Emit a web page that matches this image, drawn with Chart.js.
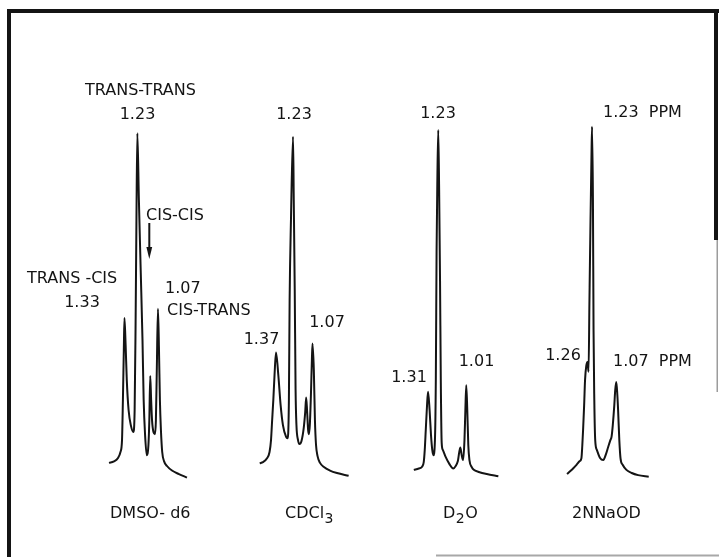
<!DOCTYPE html>
<html>
<head>
<meta charset="utf-8">
<title>Methyl proton NMR in four solvents</title>
<script src="https://cdn.jsdelivr.net/npm/chart.js@4/dist/chart.umd.min.js"></script>
<style>
  html, body { margin: 0; padding: 0; background: #fff; }
  canvas { display: block; }
</style>
</head>
<body>
<canvas id="nmr" width="719" height="557"></canvas>
<script>
// ---- Spectra: chemical shift (ppm) and relative intensity (tallest line = 100) ----

// DMSO-d6
const dmsoShift = [1.450, 1.412, 1.380, 1.361, 1.349, 1.342, 1.335, 1.33, 1.321, 1.312, 1.298, 1.279, 1.261,
  1.251, 1.244, 1.237, 1.23, 1.218, 1.204, 1.190, 1.181, 1.170, 1.157, 1.144, 1.137, 1.130, 1.123, 1.116,
  1.105, 1.093, 1.086, 1.079, 1.07, 1.062, 1.055, 1.047, 1.037, 1.023, 1.000, 0.961, 0.907, 0.845];
const dmsoIntensity = [4.9, 5.3, 6.3, 8.0, 11.4, 22.9, 37.1, 46.3, 38.6, 28.6, 20.0, 15.4, 13.7,
  20.0, 42.9, 74.3, 99.1, 80.0, 60.0, 40.0, 22.9, 12.9, 7.1, 10.0, 17.1, 29.7, 22.9, 17.1,
  13.7, 13.1, 17.1, 31.4, 48.9, 37.1, 22.9, 14.3, 8.0, 5.4, 4.0, 2.7, 1.7, 0.7];

// CDCl3
const cdclShift = [1.504, 1.477, 1.444, 1.423, 1.411, 1.403, 1.392, 1.382, 1.37, 1.351, 1.332, 1.313, 1.287,
  1.275, 1.264, 1.258, 1.247, 1.23, 1.224, 1.216, 1.209, 1.202, 1.189, 1.178, 1.161, 1.142, 1.130, 1.122,
  1.114, 1.106, 1.100, 1.092, 1.083, 1.075, 1.07, 1.059, 1.050, 1.041, 1.029, 1.008, 0.976, 0.926, 0.869, 0.773];
const cdclIntensity = [4.8, 5.1, 6.2, 8.0, 11.4, 16.3, 22.9, 30.0, 36.4, 30.0, 21.4, 15.7, 12.3,
  11.9, 22.9, 51.4, 74.3, 98.1, 80.0, 54.3, 25.7, 15.7, 11.4, 10.3, 11.1, 14.9, 19.4, 23.6,
  19.4, 14.3, 13.1, 15.7, 24.3, 34.3, 39.0, 31.4, 17.1, 10.0, 6.9, 4.9, 3.7, 2.7, 2.0, 1.2];

// D2O
const d2oShift = [1.422, 1.383, 1.357, 1.344, 1.336, 1.328, 1.318, 1.31, 1.298, 1.287, 1.277, 1.268, 1.256,
  1.249, 1.243, 1.237, 1.23, 1.223, 1.216, 1.210, 1.203, 1.194, 1.172, 1.143, 1.112, 1.093, 1.076, 1.057,
  1.046, 1.035, 1.024, 1.017, 1.01, 1.002, 0.994, 0.985, 0.967, 0.951, 0.912, 0.849, 0.758];
const d2oIntensity = [2.9, 3.3, 3.8, 5.1, 8.6, 14.3, 21.4, 25.2, 20.0, 12.9, 8.6, 7.1, 11.4,
  28.6, 65.7, 85.7, 100.0, 82.9, 57.1, 28.6, 10.6, 8.6, 6.6, 4.6, 3.3, 4.0, 5.4, 9.3,
  7.1, 5.7, 11.4, 20.0, 27.1, 20.0, 10.0, 5.7, 3.7, 2.9, 2.3, 1.7, 1.1];

// 2N NaOD
const naodShift = [1.395, 1.377, 1.355, 1.331, 1.311, 1.300, 1.294, 1.289, 1.282, 1.276, 1.268, 1.26, 1.253,
  1.247, 1.240, 1.234, 1.23, 1.224, 1.220, 1.215, 1.209, 1.198, 1.177, 1.156, 1.138, 1.123, 1.109, 1.101,
  1.093, 1.083, 1.077, 1.07, 1.063, 1.058, 1.050, 1.042, 1.027, 1.003, 0.968, 0.926, 0.856];
const naodIntensity = [1.7, 2.4, 3.3, 4.4, 5.4, 6.2, 10.0, 14.3, 21.4, 28.6, 32.6, 33.7, 30.9,
  51.4, 74.3, 91.4, 100.9, 80.0, 42.9, 22.9, 11.4, 8.6, 6.3, 5.7, 7.4, 9.5, 11.4, 12.4,
  15.7, 21.4, 25.7, 28.0, 24.3, 20.0, 11.4, 6.2, 4.3, 2.9, 2.0, 1.4, 0.9];

// Labelled line positions (ppm)
const dmsoPeaks = [1.33, 1.23, 1.07];
const cdclPeaks = [1.37, 1.23, 1.07];
const d2oPeaks = [1.31, 1.23, 1.01];
const naodPeaks = [1.26, 1.23, 1.07];

// Isomer assignments in DMSO-d6
const isomerNames = ['TRANS -CIS', 'TRANS-TRANS', 'CIS-CIS', 'CIS-TRANS'];

// Solvent captions (subscripts kept as separate runs)
const solventNames = [
  [{ t: 'DMSO- d6' }],
  [{ t: 'CDCl' }, { t: '3', sub: true }],
  [{ t: 'D' }, { t: '2', sub: true }, { t: 'O' }],
  [{ t: '2NNaOD' }]
];

// ---- Drawing ----
const ink = '#141414';
const mainFont = "16px 'DejaVu Sans'";
const subFont = "14px 'DejaVu Sans'";

function pairs(xs, ys) {
  return xs.map((x, i) => ({ x: x, y: ys[i] }));
}

function trace(xs, ys, axis) {
  return {
    data: pairs(xs, ys),
    xAxisID: axis,
    yAxisID: 'y',
    borderColor: ink,
    borderWidth: 2,
    pointRadius: 0,
    fill: false,
    cubicInterpolationMode: 'monotone'
  };
}

// Each trace gets its own reversed ppm axis so the four spectra sit side by side.
function ppmAxis(left, right) {
  return { type: 'linear', reverse: true, display: false, bounds: 'data', min: right, max: left };
}

// Text placement for the annotations
const peakLabelPlaces = [
  { value: dmsoPeaks[0], x: 82, y: 307, align: 'center' },
  { value: dmsoPeaks[1], x: 137.5, y: 119, align: 'center' },
  { value: dmsoPeaks[2], x: 165, y: 293, align: 'left' },
  { value: cdclPeaks[0], x: 261.5, y: 343.5, align: 'center' },
  { value: cdclPeaks[1], x: 294, y: 119, align: 'center' },
  { value: cdclPeaks[2], x: 327, y: 327, align: 'center' },
  { value: d2oPeaks[0], x: 409, y: 382, align: 'center' },
  { value: d2oPeaks[1], x: 438, y: 117.5, align: 'center' },
  { value: d2oPeaks[2], x: 476.5, y: 366, align: 'center' },
  { value: naodPeaks[0], x: 563, y: 359.5, align: 'center' },
  { value: naodPeaks[1], x: 603, y: 117, align: 'left', suffix: '  PPM' },
  { value: naodPeaks[2], x: 613, y: 366, align: 'left', suffix: '  PPM' }
];
const isomerPlaces = [
  { x: 27, y: 282.5 },
  { x: 85, y: 95 },
  { x: 146, y: 220 },
  { x: 167, y: 315 }
];
const solventPlaces = [
  { x: 110, y: 518 },
  { x: 285, y: 518 },
  { x: 443, y: 518 },
  { x: 572, y: 518 }
];

function drawRuns(ctx, runs, x, y) {
  let cx = x;
  runs.forEach(r => {
    ctx.font = r.sub ? subFont : mainFont;
    ctx.fillText(r.t, cx, r.sub ? y + 5 : y);
    cx += ctx.measureText(r.t).width + (r.sub ? 0.5 : 0.5);
  });
}

const annotationPlugin = {
  id: 'annotations',
  afterDraw(chart) {
    const ctx = chart.ctx;
    ctx.save();
    ctx.fillStyle = ink;
    ctx.textBaseline = 'alphabetic';

    // plate border
    ctx.fillRect(7, 9, 4, 548);
    ctx.fillRect(7, 9, 712, 4);
    ctx.fillRect(714, 9, 4, 231);
    ctx.fillStyle = '#9c9c9c';
    ctx.fillRect(716.5, 240, 1.5, 152);
    ctx.fillStyle = '#a8a8a8';
    ctx.fillRect(436, 554.5, 283, 2);
    ctx.fillStyle = ink;

    // shift values
    ctx.font = mainFont;
    peakLabelPlaces.forEach(p => {
      ctx.textAlign = p.align;
      ctx.fillText(p.value.toFixed(2) + (p.suffix || ''), p.x, p.y);
    });

    // isomer names
    ctx.textAlign = 'left';
    isomerNames.forEach((name, i) => {
      ctx.fillText(name, isomerPlaces[i].x, isomerPlaces[i].y);
    });

    // arrow to the cis-cis line
    ctx.strokeStyle = ink;
    ctx.lineWidth = 2;
    ctx.beginPath();
    ctx.moveTo(149.3, 223);
    ctx.lineTo(149.3, 249);
    ctx.stroke();
    ctx.beginPath();
    ctx.moveTo(146.4, 247);
    ctx.lineTo(152.2, 247);
    ctx.lineTo(149.3, 259);
    ctx.closePath();
    ctx.fill();

    // solvent captions
    ctx.textAlign = 'left';
    solventNames.forEach((runs, i) => drawRuns(ctx, runs, solventPlaces[i].x, solventPlaces[i].y));

    ctx.restore();
  }
};

new Chart(document.getElementById('nmr'), {
  type: 'line',
  data: {
    datasets: [
      trace(dmsoShift, dmsoIntensity, 'x0'),
      trace(cdclShift, cdclIntensity, 'x1'),
      trace(d2oShift, d2oIntensity, 'x2'),
      trace(naodShift, naodIntensity, 'x3')
    ]
  },
  options: {
    responsive: false,
    devicePixelRatio: 1,
    animation: false,
    layout: { padding: 0, autoPadding: false },
    plugins: { legend: { display: false }, tooltip: { enabled: false }, title: { display: false } },
    scales: {
      x0: ppmAxis(2.29593, -3.28420),
      x1: ppmAxis(3.63843, -2.27099),
      x2: ppmAxis(4.67182, -0.97492),
      x3: ppmAxis(5.13571, 0.39234),
      y: { type: 'linear', display: false, bounds: 'data', min: -22, max: 137.143 }
    }
  },
  plugins: [annotationPlugin]
});
</script>
</body>
</html>
